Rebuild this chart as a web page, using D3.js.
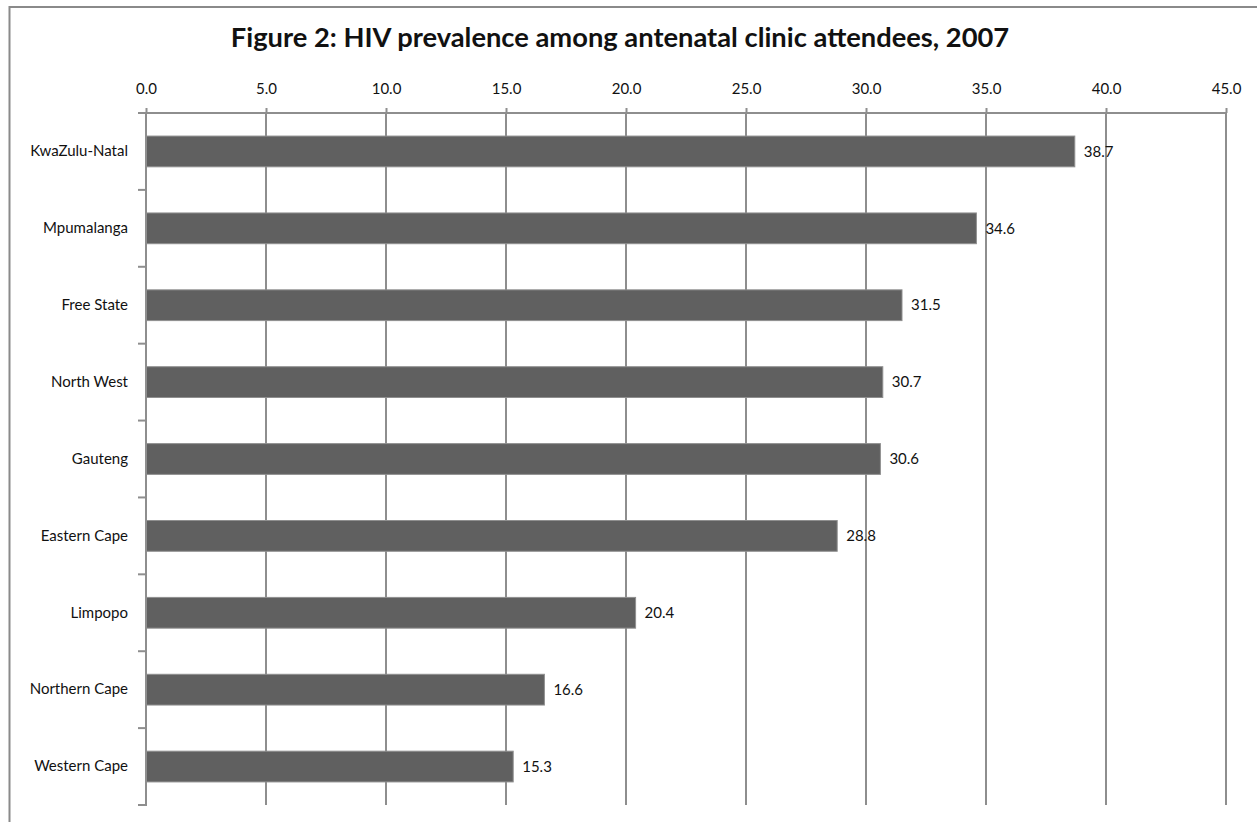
<!DOCTYPE html>
<html>
<head>
<meta charset="utf-8">
<script src="https://cdn.jsdelivr.net/npm/d3@7"></script>
<style>
    body { margin: 0; background: #fff; }
    svg text { font-family: Lato, "Open Sans", sans-serif; fill: #111; }
</style>
</head>
<body>
<div id="chart"></div>
<script>
// data
const provinces = ["KwaZulu-Natal", "Mpumalanga", "Free State", "North West", "Gauteng",
    "Eastern Cape", "Limpopo", "Northern Cape", "Western Cape"];
const prevalence = [38.7, 34.6, 31.5, 30.7, 30.6, 28.8, 20.4, 16.6, 15.3];
const xTicks = [0, 5, 10, 15, 20, 25, 30, 35, 40, 45];
const title = "Figure 2: HIV prevalence among antenatal clinic attendees, 2007";

const W = 1257, H = 822;
const margin = { top: 113, right: 31, bottom: 17, left: 146 };
const gridColor = "#8e8e8e";

const svg = d3.select("#chart").append("svg")
    .attr("width", W)
    .attr("height", H);

// outer chart frame, runs off the right and bottom edges
svg.append("rect")
    .attr("x", 9.5).attr("y", 7)
    .attr("width", W + 20).attr("height", H + 20)
    .attr("fill", "none")
    .attr("stroke", "#8a8a8a")
    .attr("stroke-width", 2);

const x = d3.scaleLinear()
    .domain([0, 45])
    .range([margin.left, W - margin.right]);

const y = d3.scaleBand()
    .domain(provinces)
    .range([margin.top, H - margin.bottom]);

// TITLE - fit width to the original
const t = svg.append("text")
    .text(title)
    .attr("x", 620).attr("y", 47)
    .attr("text-anchor", "middle")
    .style("font-weight", "bold")
    .style("font-size", "23px");
const tw = t.node().getComputedTextLength();
t.style("font-size", (23 * 779 / tw) + "px");

// GRIDLINES
svg.append("g").selectAll("line")
    .data(xTicks.slice(1))
    .join("line")
    .attr("x1", d => x(d)).attr("x2", d => x(d))
    .attr("y1", margin.top).attr("y2", H - margin.bottom)
    .attr("stroke", gridColor)
    .attr("stroke-width", 2);

// X AXIS on top
const xAxis = svg.append("g")
    .attr("transform", "translate(0," + margin.top + ")")
    .call(d3.axisTop(x).tickValues(xTicks).tickFormat(d3.format(".1f"))
        .tickSize(5).tickSizeOuter(0).tickPadding(14));
xAxis.select(".domain").remove();
xAxis.selectAll(".tick line").attr("stroke", gridColor).attr("stroke-width", 2);
xAxis.selectAll(".tick text").style("font-size", "15px").attr("fill", "#111");
svg.append("line")
    .attr("x1", margin.left - 8).attr("x2", x(45) + 1)
    .attr("y1", margin.top).attr("y2", margin.top)
    .attr("stroke", gridColor).attr("stroke-width", 2);

// BARS
const barH = y.bandwidth() * 0.4;
svg.append("g").selectAll("rect")
    .data(provinces)
    .join("rect")
    .attr("x", x(0))
    .attr("y", d => y(d) + (y.bandwidth() - barH) / 2)
    .attr("width", (d, i) => x(prevalence[i]) - x(0))
    .attr("height", barH)
    .attr("fill", "#606060")
    .attr("stroke", "#8f8f8f")
    .attr("stroke-width", 1);

// Y AXIS
const yAxis = svg.append("g")
    .attr("transform", "translate(" + margin.left + ",0)")
    .call(d3.axisLeft(y).tickSize(0).tickPadding(18));
yAxis.select(".domain").remove();
yAxis.selectAll(".tick text").style("font-size", "15px").attr("fill", "#111");

svg.append("line")
    .attr("x1", margin.left).attr("x2", margin.left)
    .attr("y1", margin.top).attr("y2", H - margin.bottom + 1)
    .attr("stroke", gridColor).attr("stroke-width", 2);

// category boundary ticks
const bounds = provinces.map(d => y(d)).concat([y.range()[1]]);
svg.append("g").selectAll("line")
    .data(bounds)
    .join("line")
    .attr("x1", margin.left - 8).attr("x2", margin.left)
    .attr("y1", d => d).attr("y2", d => d)
    .attr("stroke", gridColor).attr("stroke-width", 2);

// DATA LABELS
svg.append("g").selectAll("text")
    .data(provinces)
    .join("text")
    .attr("x", (d, i) => x(prevalence[i]) + 9)
    .attr("y", d => y(d) + y.bandwidth() / 2)
    .attr("dy", "0.35em")
    .style("font-size", "15px")
    .text((d, i) => prevalence[i].toFixed(1));
</script>
</body>
</html>
